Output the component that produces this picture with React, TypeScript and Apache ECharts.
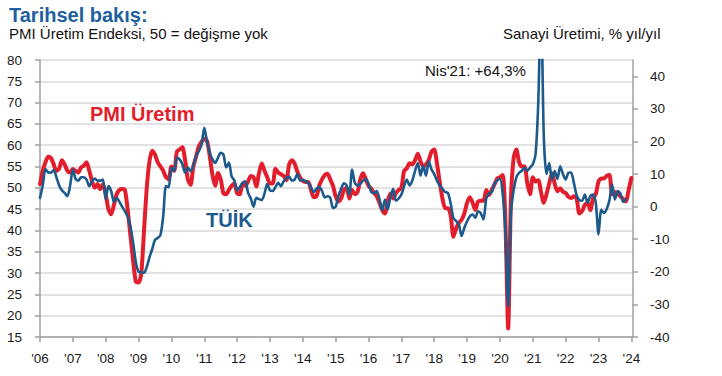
import React, { useEffect, useRef } from "react";
import * as echarts from "echarts";

// Monthly data, Jan 2006 = index 0
const yearLabels = ["'06", "'07", "'08", "'09", "'10", "'11", "'12", "'13", "'14", "'15", "'16", "'17", "'18", "'19", "'20", "'21", "'22", "'23", "'24"];

const pmiOutput = [
  50.9, 54, 56, 57.3, 57, 55.5, 54, 54.5, 56.5, 55.5, 54, 53.6,
  54.4, 54, 53.6, 54.8, 55.2, 56, 54, 51.6, 50, 50.9, 49.7, 50.9,
  48.5, 45, 43.8, 46, 48.5, 49.5, 49.7, 49.5, 45, 39, 33, 28,
  27.8, 30, 40, 50, 56.3, 58.7, 57.8, 56, 55, 54, 52.5, 52,
  55, 54, 58.5, 59, 59.5, 56.5, 52, 50.7, 55, 57.3, 59.7, 60.8,
  61.5, 61, 57.5, 53, 50.5, 53.5, 52, 48.7, 48.5, 49.5, 50.5, 51,
  48.7, 48.5, 51, 50.5, 51.5, 52.8, 52.5, 50.3, 53.5, 55.7, 54, 52.5,
  51, 51, 54.5, 53.6, 53.2, 52.8, 51.8, 55.5, 56.5, 55.7, 53.8, 52.4,
  51.6, 51.4, 51.4, 49.5, 47.8, 48, 50.5, 52, 53, 53.3, 52, 50.5,
  48, 46.8, 47.5, 49.5, 50, 47.5, 49.5, 48.5, 49, 52, 53.4, 52,
  50.5, 49.8, 48.8, 48, 46.5, 44.8, 44, 47, 48.7, 47.5, 48.8, 49.5,
  50, 54, 54.6, 55.8, 55.5, 56.5, 58, 56.2, 55, 55.5, 56.5, 58.5,
  59, 55.7, 51.4, 47.5, 45.2, 45.2, 43.5, 38.5, 40.5, 41.8, 42.5, 44,
  46.5, 47.8, 46.5, 44.8, 46.8, 47, 47, 49.5, 48.3, 49.5, 50.8, 52.2,
  52.5, 53, 42, 17, 47, 57, 59, 56, 55, 55, 51, 48.5,
  52.5, 51.5, 51.8, 49, 46.5, 48.5, 51, 53.4, 51, 49.2, 49.9, 49.1,
  48.8, 47.9, 47.6, 48, 47.5, 44, 44.5, 46, 46.5, 44.8, 47.5, 48.5,
  51.5, 52.2, 52.2, 52.8, 53, 48.5, 49, 48.6, 48, 47.4, 46.8, 49.5,
  52.3
];

const industrialProductionYoY = [
  2.7, 6.5, 11.5, 10.5, 10.4, 11.2, 9, 6.5, 5, 4.2, 3.2, 6.5,
  11.4, 8.5, 8, 9, 9, 8.3, 6.3, 7.8, 8.6, 8, 8, 8.3,
  2.2, 6.3, 4.8, 1.5, 2.7, 1.5, 0, -1.4, -3, -6, -11, -17,
  -20, -20.1, -20.3, -18.5, -15.5, -13, -10.2, -9.6, -8.7, -3, 6.3, 6,
  11.9, 10.9, 15, 14.5, 13, 10.4, 12, 10.9, 12.5, 15.5, 17, 19,
  24.2, 20, 16.5, 14.5, 13.4, 15, 16.5, 16, 12, 13.5, 9.3, 8,
  5, 6, 7.3, 7.8, 4.2, 2.5, 0, 2.7, 2.3, 2, 4, 7,
  5, 4.8, 6, 7.3, 6.3, 7.8, 8.8, 9.2, 8, 8.3, 10, 8,
  8.2, 7.8, 7.3, 5.8, 4.5, 5.5, 6, 4.8, 2.8, 3.2, 2.8, -0.4,
  0, 3.2, 5.5, 7.2, 6.5, 3.7, 11.4, 7.3, 6.5, 7, 8, 8.5,
  7, 4.5, 4.2, 4.8, 2.3, -1.2, 2.2, -0.9, 3, 5.5, 1.8, 2.5,
  3.7, 6.3, 8.3, 6.5, 8, 11, 13.4, 9.5, 12.5, 9.5, 13.9, 11.4,
  10, 8, 6.5, 5.5, 4.5, 4.2, 1, -3.5, -4.4, -5.5, -9, -6.5,
  -4.5, -3, -2.4, -3.4, -1.4, -2, -3.9, 2.5, 4, 4.5, 7, 8,
  8.5, 4, -8, -30.5, -2, 5, 9, 10.4, 11, 11.9, 11, 12,
  13, 16, 32, 64.3, 22, 10, 13.4, 8.3, 10.9, 8.5, 12.4, 10,
  8.3, 10.4, 10.5, 7.3, 3.5, 2, 1.8, 3.7, 1.2, 3.2, 3.7, 1.2,
  -8.5, -1, -1.9, -0.7, 2, 6.8, 2.2, 4.8, 4, 1.5, 2.2
];

const RED = "#e31e2c";
const BLUE = "#1d5a8c";
const TEXT_FONT = "'Liberation Sans', Arial, sans-serif";

export default function App() {
  const ref = useRef<HTMLDivElement>(null);

  useEffect(() => {
    if (!ref.current) return;
    const chart = echarts.init(ref.current, null, { renderer: "svg" });
    const axisLabelStyle = { color: "#1a1a1a", fontSize: 13.5, fontFamily: TEXT_FONT };
    const axisLineStyle = { color: "#a0a0a0", width: 1.5 };
    chart.setOption({
      animation: false,
      backgroundColor: "#ffffff",
      grid: { left: 40, right: 89, top: 60, bottom: 39, containLabel: false },
      xAxis: {
        type: "value",
        min: 0,
        max: 216.6,
        interval: 12,
        axisLine: { show: true, onZero: false, lineStyle: axisLineStyle },
        axisTick: { show: true, length: 5, lineStyle: axisLineStyle },
        axisLabel: {
          ...axisLabelStyle,
          margin: 14,
          showMaxLabel: false,
          formatter: (v: number) => yearLabels[Math.round(v / 12)] ?? "",
        },
        splitLine: { show: false },
      },
      yAxis: [
        {
          type: "value",
          position: "left",
          min: 15,
          max: 80,
          interval: 5,
          axisLine: { show: true, onZero: false, lineStyle: axisLineStyle },
          axisTick: { show: true, length: 5, lineStyle: axisLineStyle },
          axisLabel: { ...axisLabelStyle, margin: 18 },
          splitLine: { show: true, lineStyle: { color: "#d9d9d9", width: 1.5 } },
        },
        {
          type: "value",
          position: "right",
          min: -40,
          max: 45,
          interval: 10,
          axisLine: { show: true, onZero: false, lineStyle: axisLineStyle },
          axisTick: { show: true, length: 5, lineStyle: axisLineStyle },
          axisLabel: { ...axisLabelStyle, margin: 17, showMaxLabel: false },
          splitLine: { show: false },
        },
      ],
      series: [
        {
          name: "PMI Üretim",
          type: "line",
          yAxisIndex: 0,
          data: pmiOutput.map((v, i) => [i, v]),
          showSymbol: false,
          smooth: 0.25,
          clip: true,
          lineStyle: { color: RED, width: 4, join: "round", cap: "round" },
          z: 2,
        },
        {
          name: "TÜİK",
          type: "line",
          yAxisIndex: 1,
          data: industrialProductionYoY.map((v, i) => [i, v]),
          showSymbol: false,
          smooth: 0.25,
          clip: true,
          lineStyle: { color: BLUE, width: 2.6, join: "round", cap: "round" },
          z: 3,
        },
      ],
      graphic: [
        { type: "text", left: 9, top: 5, style: { text: "Tarihsel bakış:", fill: "#1f5f9f", font: `bold 20px ${TEXT_FONT}` } },
        { type: "text", left: 9, top: 26, style: { text: "PMI Üretim Endeksi, 50 = değişme yok", fill: "#111", font: `15px ${TEXT_FONT}` } },
        { type: "text", left: 503, top: 26, style: { text: "Sanayi Üretimi, % yıl/yıl", fill: "#111", font: `15px ${TEXT_FONT}` } },
        { type: "text", left: 90, top: 104, style: { text: "PMI Üretim", fill: RED, font: `bold 20px ${TEXT_FONT}` } },
        { type: "text", left: 206, top: 210, style: { text: "TÜİK", fill: BLUE, font: `bold 20px ${TEXT_FONT}` } },
        { type: "text", left: 425, top: 63, style: { text: "Nis'21: +64,3%", fill: "#111", font: `15px ${TEXT_FONT}` } },
      ],
    });
    return () => chart.dispose();
  }, []);

  return <div ref={ref} style={{ width: 722, height: 376, position: "absolute", left: 0, top: 0 }} />;
}
